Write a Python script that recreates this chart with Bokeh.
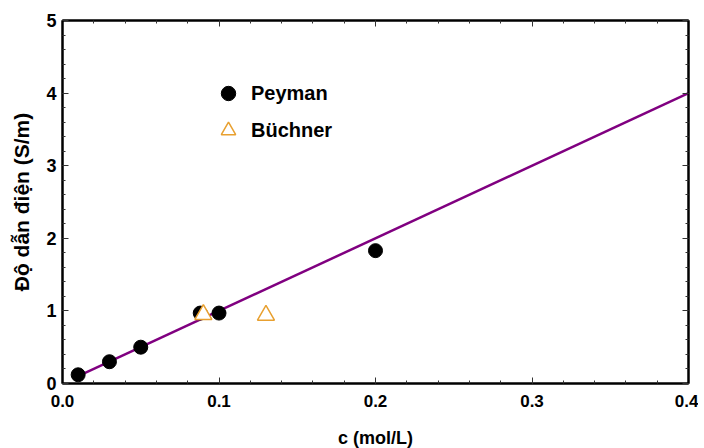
from bokeh.plotting import figure
from bokeh.models import LinearAxis, Legend, LegendItem, FixedTicker, Range1d
from bokeh.embed import file_html
from bokeh.resources import INLINE

# data
peyman_c = [0.01, 0.03, 0.05, 0.088, 0.10, 0.20]
peyman_k = [0.12, 0.30, 0.50, 0.97, 0.97, 1.83]
buchner_c = [0.09, 0.13]
buchner_k = [0.95, 0.94]
fit_c = [0.01, 0.40]
fit_k = [0.10, 4.00]
x_ticks = [0.0, 0.1, 0.2, 0.3, 0.4]
y_ticks = [0, 1, 2, 3, 4, 5]
x_minor = [round(i * 0.02, 2) for i in range(21)]
y_minor = [round(i * 0.2, 1) for i in range(26)]

FONT = "Liberation Sans"

p = figure(frame_width=626, frame_height=363, output_backend="svg", toolbar_location=None,
           x_range=Range1d(0, 0.4), y_range=Range1d(0, 5),
           min_border_left=62, min_border_right=10, min_border_top=20, min_border_bottom=0,
           x_axis_label="c (mol/L)", y_axis_label="Độ dẫn điện (S/m)")
p.grid.visible = False
p.outline_line_color = "black"
p.outline_line_width = 2
p.background_fill_color = "white"
p.border_fill_color = "white"

def style(ax):
    ax.axis_line_width = 2
    ax.axis_line_color = "black"
    ax.major_tick_in = 6
    ax.major_tick_out = 0
    ax.minor_tick_in = 3
    ax.minor_tick_out = 0
    ax.major_tick_line_color = "#333333"
    ax.minor_tick_line_color = "#333333"
    ax.major_tick_line_width = 1
    ax.minor_tick_line_width = 1
    ax.major_label_text_font = FONT
    ax.major_label_text_font_style = "bold"
    ax.major_label_text_font_size = "17px"
    ax.major_label_text_color = "black"
    ax.axis_label_text_font = FONT
    ax.axis_label_text_font_style = "bold"
    ax.axis_label_text_font_size = "18px"
    ax.axis_label_text_color = "black"

for ax in p.xaxis:
    ax.ticker = FixedTicker(ticks=x_ticks, minor_ticks=x_minor)
    ax.major_label_overrides = {t: f"{t:.1f}" for t in x_ticks}
    style(ax)
    ax.major_label_standoff = 11
    ax.axis_label_standoff = 18
for ax in p.yaxis:
    ax.ticker = FixedTicker(ticks=y_ticks, minor_ticks=y_minor)
    style(ax)
    ax.major_label_text_font_size = "18px"
    ax.axis_label_text_font_size = "21px"
    ax.major_label_standoff = 6
    ax.axis_label_standoff = 10

top = LinearAxis(ticker=FixedTicker(ticks=x_ticks, minor_ticks=x_minor))
style(top)
top.major_label_overrides = {t: "" for t in x_ticks}
p.add_layout(top, "above")
right = LinearAxis(ticker=FixedTicker(ticks=y_ticks, minor_ticks=y_minor))
style(right)
right.major_label_overrides = {t: "" for t in y_ticks}
p.add_layout(right, "right")

p.line(fit_c, fit_k, line_color="#800080", line_width=2.5)
r1 = p.scatter(peyman_c, peyman_k, marker="circle", size=14, fill_color="black", line_color="black")
r2 = p.scatter(buchner_c, buchner_k, marker="triangle", size=17, fill_color="white",
               line_color="#E8A030", line_width=1.5)

legend = Legend(items=[LegendItem(label="Peyman", renderers=[r1]),
                       LegendItem(label="Büchner", renderers=[r2])],
                location=(148, 235), border_line_color=None, background_fill_alpha=0,
                padding=0, margin=0, spacing=1, glyph_width=36, glyph_height=36,
                label_height=36, label_standoff=5, label_text_color="black",
                label_text_font=FONT, label_text_font_style="bold", label_text_font_size="20px")
p.add_layout(legend, "center")

open("out.html", "w").write(file_html(p, INLINE))
